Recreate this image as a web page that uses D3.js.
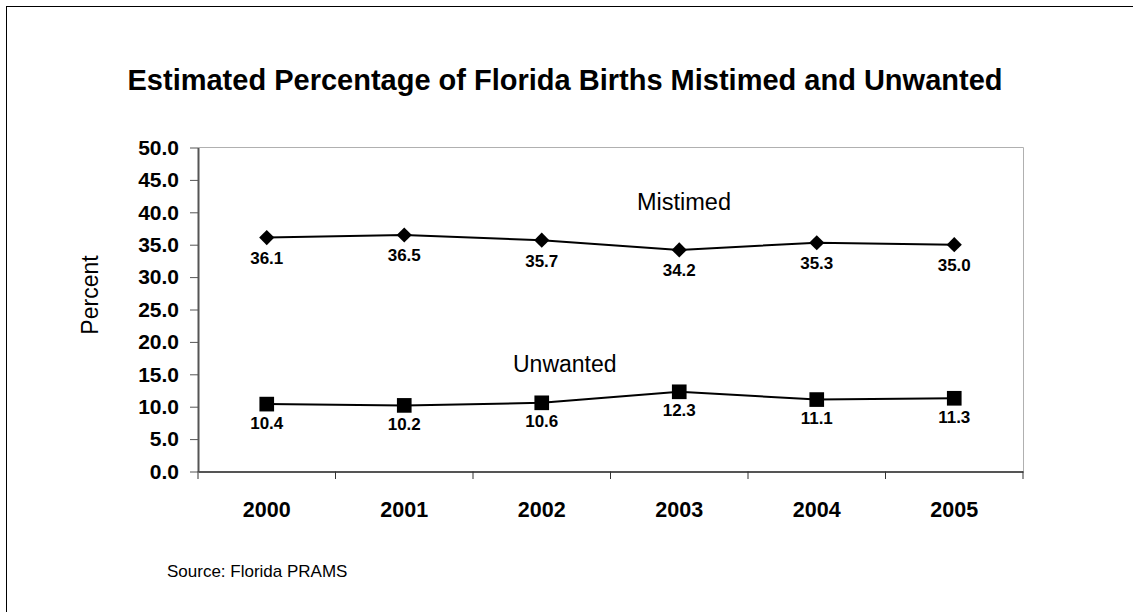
<!DOCTYPE html>
<html>
<head>
<meta charset="utf-8">
<script src="https://cdn.jsdelivr.net/npm/d3@7"></script>
<style>
  body { margin: 0; background: #fff; }
  text { font-family: "Liberation Sans", Arial, sans-serif; }
</style>
</head>
<body>
<div id="chart"></div>
<script>
var years = ["2000", "2001", "2002", "2003", "2004", "2005"];
var mistimed = [36.1, 36.5, 35.7, 34.2, 35.3, 35.0];
var unwanted = [10.4, 10.2, 10.6, 12.3, 11.1, 11.3];
var yTicks = [0, 5, 10, 15, 20, 25, 30, 35, 40, 45, 50];

var w = 1133;
var h = 612;
var pLeft = 198, pRight = 1023, pTop = 147.5, pBottom = 471.5;

var svg = d3.select("#chart")
    .append("svg")
    .attr("width", w)
    .attr("height", h);

svg.append("rect")
    .attr("width", w).attr("height", h)
    .attr("fill", "#fff");

// outer frame
svg.append("rect")
    .attr("x", 6.5).attr("y", 6.5)
    .attr("width", 1200).attr("height", 700)
    .attr("fill", "none")
    .attr("stroke", "#000");

svg.append("text")
    .attr("x", 565).attr("y", 90)
    .attr("text-anchor", "middle")
    .attr("font-size", "29px")
    .attr("font-weight", "bold")
    .text("Estimated Percentage of Florida Births Mistimed and Unwanted");

var x = d3.scaleBand()
    .domain(years)
    .range([pLeft, pRight]);

var y = d3.scaleLinear()
    .domain([0, 50])
    .range([pBottom, pTop]);

// plot area border (top/right)
svg.append("path")
    .attr("d", "M" + pLeft + "," + pTop + "H" + (pRight + 0.5) + "V" + pBottom)
    .attr("fill", "none")
    .attr("stroke", "#b0b0b0");

// y axis
var yAxis = svg.append("g")
    .attr("transform", "translate(" + pLeft + ",0)")
    .call(d3.axisLeft(y).tickValues(yTicks).tickSize(8).tickSizeOuter(0).tickPadding(11)
        .tickFormat(d3.format(".1f")));
yAxis.select(".domain").attr("stroke", "#555").attr("stroke-width", 2);
yAxis.selectAll(".tick line").attr("stroke", "#555");
yAxis.selectAll("text")
    .attr("font-size", "21px")
    .attr("font-weight", "bold")
    .attr("fill", "#000")
    .attr("font-family", "Liberation Sans, Arial, sans-serif");

// x axis
var xAxis = svg.append("g")
    .attr("transform", "translate(0," + pBottom + ")")
    .call(d3.axisBottom(x).tickSize(0).tickSizeOuter(0));
xAxis.select(".domain").attr("stroke", "#555").attr("stroke-width", 2);
xAxis.selectAll("text")
    .attr("y", 45)
    .attr("dy", null)
    .attr("font-size", "21.5px")
    .attr("font-weight", "bold")
    .attr("fill", "#000")
    .attr("font-family", "Liberation Sans, Arial, sans-serif");

// category separator ticks
svg.append("g").selectAll("line")
    .data(years.concat(["end"]))
    .enter()
    .append("line")
    .attr("x1", function (d, i) { return pLeft + i * x.bandwidth(); })
    .attr("x2", function (d, i) { return pLeft + i * x.bandwidth(); })
    .attr("y1", pBottom)
    .attr("y2", pBottom + 7.5)
    .attr("stroke", "#333");

var line = d3.line()
    .x(function (d, i) { return x(years[i]) + x.bandwidth() / 2; })
    .y(function (d) { return y(d); });

function drawSeries(data, size, rot, labelDy) {
    svg.append("path")
        .datum(data)
        .attr("d", line)
        .attr("fill", "none")
        .attr("stroke", "#000")
        .attr("stroke-width", 2);

    svg.append("g").selectAll("path")
        .data(data)
        .enter()
        .append("path")
        .attr("d", d3.symbol().type(d3.symbolSquare).size(size))
        .attr("transform", function (d, i) {
            return "translate(" + (x(years[i]) + x.bandwidth() / 2) + "," + y(d) + ") rotate(" + rot + ")";
        })
        .attr("fill", "#000");

    svg.append("g").selectAll("text")
        .data(data)
        .enter()
        .append("text")
        .attr("x", function (d, i) { return x(years[i]) + x.bandwidth() / 2; })
        .attr("y", function (d) { return y(d) + labelDy; })
        .attr("text-anchor", "middle")
        .attr("font-size", "17px")
        .attr("font-weight", "bold")
        .text(function (d) { return d.toFixed(1); });
}

drawSeries(mistimed, 115, 45, 26.5);
drawSeries(unwanted, 215, 0, 24.5);

svg.append("text")
    .attr("x", 637).attr("y", 210)
    .attr("font-size", "23.5px")
    .text("Mistimed");

svg.append("text")
    .attr("x", 513).attr("y", 372)
    .attr("font-size", "23px")
    .text("Unwanted");

svg.append("text")
    .attr("transform", "translate(98,295) rotate(-90)")
    .attr("text-anchor", "middle")
    .attr("font-size", "23px")
    .text("Percent");

svg.append("text")
    .attr("x", 167).attr("y", 577)
    .attr("font-size", "17px")
    .text("Source: Florida PRAMS");
</script>
</body>
</html>
